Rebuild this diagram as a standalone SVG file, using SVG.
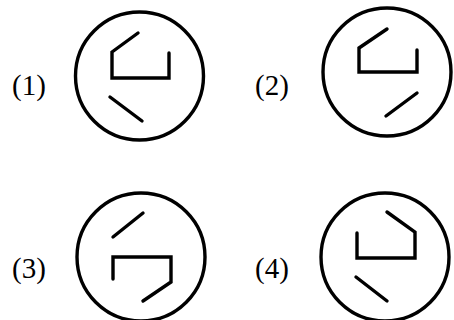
<svg xmlns="http://www.w3.org/2000/svg" width="454" height="320" viewBox="0 0 454 320">
<style>
.c{fill:none;stroke:#000;stroke-width:3.4}
.s{fill:none;stroke:#000;stroke-width:3.4;stroke-linecap:round;stroke-linejoin:miter}
.t{font-family:"Liberation Serif","Times New Roman",serif;font-size:29px;fill:#000}
</style>
<rect width="454" height="320" fill="#fff"/>
<g id="fig1">
<text class="t" x="12" y="95">(1)</text>
<circle class="c" cx="139.5" cy="76" r="64"/>
<polyline class="s" points="138,33 112,52 112,78 169,78 169,53"/>
<line class="s" x1="110" y1="97" x2="142" y2="121"/>
</g>
<g id="fig2">
<text class="t" x="255" y="95">(2)</text>
<circle class="c" cx="387" cy="72" r="64"/>
<polyline class="s" points="387,29 359,48 359,72 417,72 417,50"/>
<line class="s" x1="417" y1="93" x2="386" y2="116"/>
</g>
<g id="fig3">
<text class="t" x="12" y="278">(3)</text>
<circle class="c" cx="141" cy="257" r="64"/>
<line class="s" x1="143" y1="213" x2="113" y2="237"/>
<polyline class="s" points="113,279 113,257 171,257 171,282 143,301"/>
</g>
<g id="fig4">
<text class="t" x="255" y="278">(4)</text>
<circle class="c" cx="385" cy="257" r="64"/>
<polyline class="s" points="387,212 415,232 415,258 357,258 357,233"/>
<line class="s" x1="356" y1="277" x2="387" y2="301"/>
</g>
</svg>
